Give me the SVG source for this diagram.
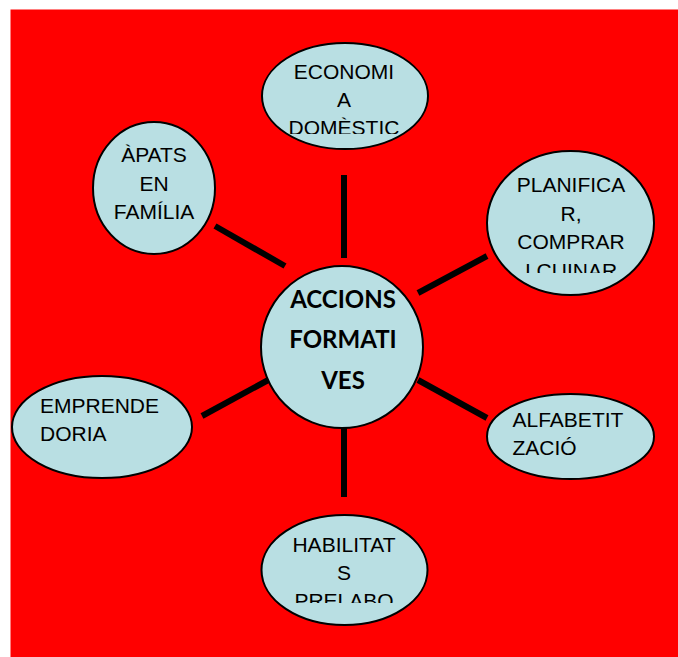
<svg xmlns="http://www.w3.org/2000/svg" width="678" height="657" viewBox="0 0 678 657">
<defs>
<style>
.bg{fill:#ff0000}
.n{fill:#b9dfe3;stroke:#000;stroke-width:2}
.t{font-family:"Liberation Sans",Arial,sans-serif;font-size:21px;fill:#000}
.c{text-anchor:middle}
.b{font-family:Lato,"Liberation Sans",sans-serif;font-weight:bold;font-size:24px;fill:#000;text-anchor:middle}
.e{stroke:#000;stroke-width:6;fill:none}
</style>
<clipPath id="clipEco"><rect x="262" y="50" width="166" height="84"/></clipPath>
<clipPath id="clipPla"><rect x="487" y="160" width="167" height="113"/></clipPath>
<clipPath id="clipHab"><rect x="262" y="525" width="166" height="78"/></clipPath>
</defs>
<rect class="bg" x="10.5" y="9.5" width="668" height="648"/>
<g id="connectors">
<line class="e" x1="344" y1="175" x2="344" y2="258"/>
<line class="e" x1="215" y1="226" x2="285" y2="266"/>
<line class="e" x1="418" y1="293" x2="487" y2="256"/>
<line class="e" x1="202" y1="416" x2="272" y2="378"/>
<line class="e" x1="418" y1="380" x2="487" y2="418"/>
<line class="e" x1="344" y1="423" x2="344" y2="497"/>
</g>
<g id="center">
<circle class="n" cx="342" cy="347" r="81"/>
<text class="b" x="343" y="308">ACCIONS</text>
<text class="b" x="343" y="348">FORMATI</text>
<text class="b" x="343" y="389">VES</text>
</g>
<g id="economia">
<ellipse class="n" cx="345" cy="96" rx="83" ry="53"/>
<g clip-path="url(#clipEco)">
<text class="t c" x="344" y="79">ECONOMI</text>
<text class="t c" x="344" y="107">A</text>
<text class="t c" x="344" y="135">DOMÈSTIC</text>
</g>
</g>
<g id="planificar">
<ellipse class="n" cx="570.5" cy="223" rx="83.5" ry="72"/>
<g clip-path="url(#clipPla)">
<text class="t c" x="571" y="192">PLANIFICA</text>
<text class="t c" x="571" y="221">R,</text>
<text class="t c" x="571" y="249">COMPRAR</text>
<text class="t c" x="571" y="278">I CUINAR</text>
</g>
</g>
<g id="apats">
<ellipse class="n" cx="154" cy="188" rx="61" ry="66"/>
<text class="t c" x="154" y="162">ÀPATS</text>
<text class="t c" x="154" y="191">EN</text>
<text class="t c" x="154" y="219">FAMÍLIA</text>
</g>
<g id="emprenedoria">
<ellipse class="n" cx="102" cy="427" rx="90" ry="51"/>
<text class="t" x="40" y="413">EMPRENDE</text>
<text class="t" x="40" y="441">DORIA</text>
</g>
<g id="alfabetitzacio">
<ellipse class="n" cx="570.5" cy="436.5" rx="83.5" ry="42.5"/>
<text class="t" x="512.5" y="427">ALFABETIT</text>
<text class="t" x="512.5" y="455">ZACIÓ</text>
</g>
<g id="habilitats">
<ellipse class="n" cx="344.5" cy="570" rx="83" ry="55"/>
<g clip-path="url(#clipHab)">
<text class="t c" x="344" y="552">HABILITAT</text>
<text class="t c" x="344" y="580">S</text>
<text class="t c" x="344" y="608">PRELABO</text>
</g>
</g>
</svg>
